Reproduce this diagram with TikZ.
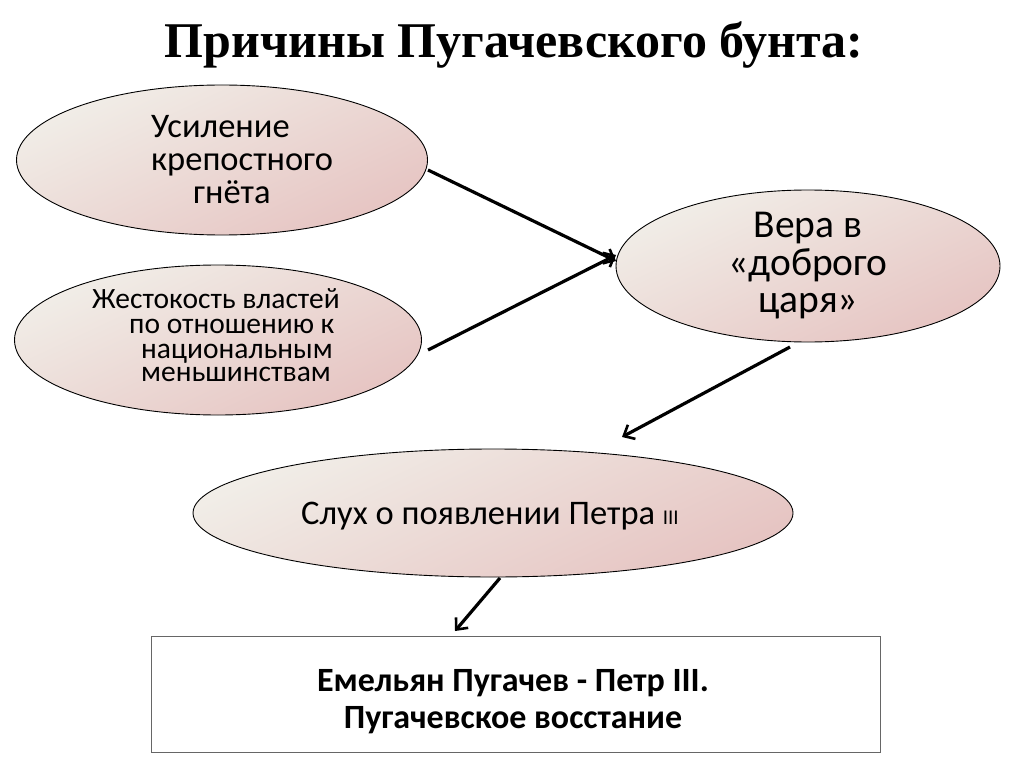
\documentclass[tikz,border=0pt]{standalone}
\usepackage{fontspec}
\setmainfont{Carlito}
\newfontfamily\titlefont{Liberation Serif}
\usetikzlibrary{arrows.meta,shapes.geometric}
\begin{document}
\begin{tikzpicture}[x=1pt,y=-1pt,
  ell/.style={ellipse,draw=black,line width=0.9pt,inner sep=0pt,
    top color={rgb,255:red,241;green,238;blue,232},bottom color={rgb,255:red,230;green,196;blue,194},shading angle=25},
  arr/.style={line width=3.2pt,-{Straight Barb[length=9pt,width=16pt,line width=2.6pt]}},
  txt/.style={inner sep=0pt,anchor=base west},
  ctxt/.style={inner sep=0pt,anchor=base}]
\useasboundingbox (0,0) rectangle (1024,767);
\node[ctxt] (title) at (514,58) {\titlefont\bfseries\fontsize{50}{56}\selectfont Причины Пугачевского бунта:};
\node[ell,minimum width=411,minimum height=150] (e1) at (222,160) {};
\node[ell,minimum width=407,minimum height=150] (e2) at (218,340) {};
\node[ell,minimum width=384,minimum height=152] (e3) at (808,266) {};
\node[ell,minimum width=600,minimum height=128] (e4) at (493,513) {};
\node[draw=black!60,line width=0.8pt,minimum width=729,minimum height=116,inner sep=0pt] (box) at (515.5,694) {};
\begin{scope}[every node/.style={txt},font=\fontsize{34.5}{36}\selectfont]
\node (a1) at (151,138) {Усиление};
\node (a2) at (151,171) {крепостного};
\node (a3) at (193,204) {гнёта};
\end{scope}
\begin{scope}[every node/.style={txt},font=\fontsize{29.5}{31}\selectfont]
\node (b1) at (92,308) {Жестокость властей};
\node (b2) at (129,333) {по отношению к};
\node (b3) at (141,358) {национальным};
\node (b4) at (141,381) {меньшинствам};
\end{scope}
\begin{scope}[every node/.style={ctxt},font=\fontsize{39.5}{42}\selectfont]
\node (c1) at (808,237) {Вера в};
\node (c2) at (808,275) {«доброго};
\node (c3) at (808,312) {царя»};
\end{scope}
\node[ctxt,font=\fontsize{34.5}{36}\selectfont] (d1) at (490,524) {Слух о появлении Петра {\fontsize{21}{24}\selectfont III}};
\node[ctxt,font=\bfseries\fontsize{34}{36}\selectfont] (f1) at (513,691) {Емельян Пугачев - Петр III.};
\node[ctxt,font=\bfseries\fontsize{34}{36}\selectfont] (f2) at (513,728) {Пугачевское восстание};
\coordinate (s1) at (428,170);
\coordinate (s2) at (428,350);
\coordinate (t12) at (616,258);
\coordinate (s3) at (790,347);
\coordinate (t3) at (622,437);
\coordinate (s4) at (500,578);
\coordinate (t4) at (455,631);
\draw[arr] (s1) -- ([yshift=-3]t12);
\draw[arr] (s2) -- ([yshift=3]t12);
\draw[arr] (s3) -- (t3);
\draw[arr] (s4) -- (t4);
\end{tikzpicture}
\end{document}
